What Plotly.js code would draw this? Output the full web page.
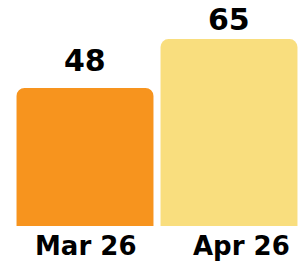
<!DOCTYPE html>
<html><head><meta charset="utf-8">
<script src="https://cdn.plot.ly/plotly-3.0.1.min.js"></script>
<style>html,body{margin:0;padding:0;background:#fff}#c{width:307px;height:262px}</style>
</head><body><div id="c"></div>
<script>
const categories = ['Mar 26', 'Apr 26'];
const values = [48, 65];
const colors = ['#F7941E', '#F9DE7E'];

const fontFam = 'DejaVu Sans, sans-serif';
const labelShift = [8, 0];
const tickShift = [0, 12];

const trace = {
  type: 'bar',
  x: categories,
  y: values,
  marker: {color: colors, cornerradius: 8, line: {width: 0}},
  hoverinfo: 'none'
};

const annotations = categories.map((c, i) => ({
  x: c, y: values[i], text: '<b>' + values[i] + '</b>',
  showarrow: false, yanchor: 'bottom', yshift: labelShift[i],
  font: {family: fontFam, size: 30, color: '#000'}
})).concat(categories.map((c, i) => ({
  x: c, y: 0, yref: 'y', text: '<b>' + c + '</b>',
  showarrow: false, yanchor: 'top', yshift: -3, xshift: tickShift[i],
  font: {family: fontFam, size: 26, color: '#000'}
})));

const layout = {
  width: 307, height: 262,
  margin: {l: 13, r: 6, t: 0, b: 36},
  bargap: 0.049,
  paper_bgcolor: '#fff', plot_bgcolor: '#fff',
  showlegend: false,
  xaxis: {
    type: 'category', range: [-0.5, 1.5], showgrid: false, zeroline: false,
    showline: false, ticks: '', showticklabels: false, fixedrange: true
  },
  yaxis: {range: [0, 78.6], visible: false, fixedrange: true},
  annotations: annotations
};

Plotly.newPlot('c', [trace], layout, {displayModeBar: false, staticPlot: true});
</script></body></html>
